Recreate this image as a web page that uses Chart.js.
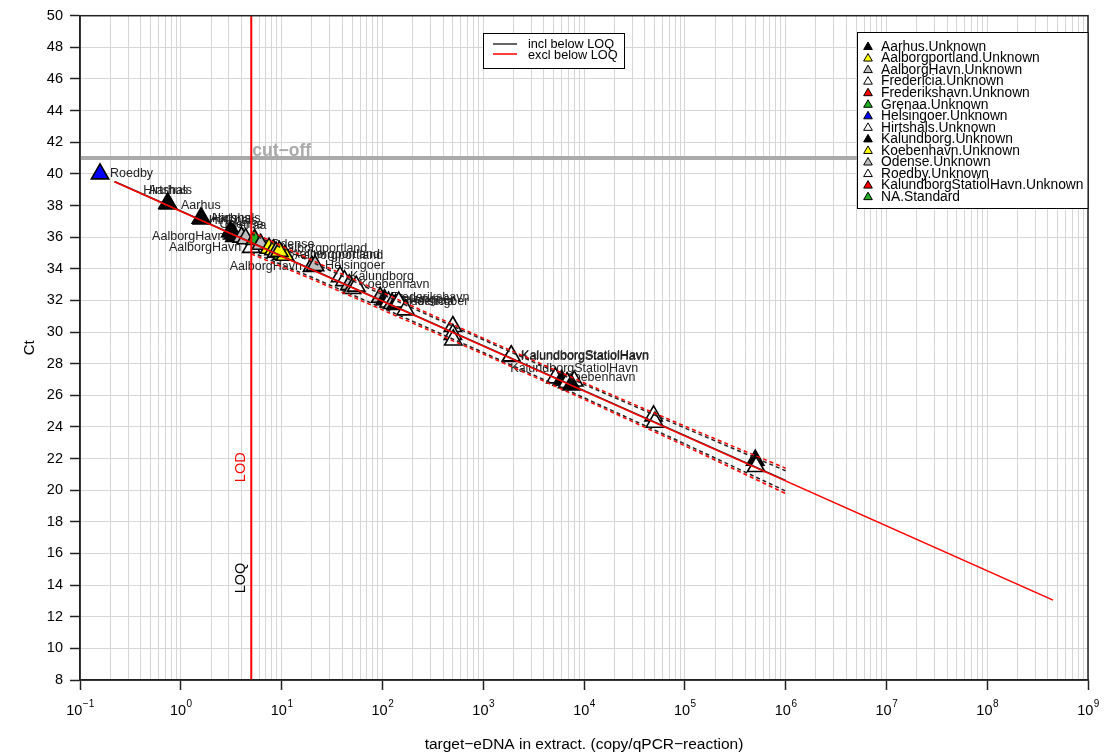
<!DOCTYPE html>
<html>
<head>
<meta charset="utf-8">
<script src="https://cdn.jsdelivr.net/npm/chart.js@4/dist/chart.umd.min.js"></script>
<style>
html, body { margin: 0; padding: 0; background: #fff; }
</style>
</head>
<body>
<canvas id="std" width="1104" height="754"></canvas>
<script>
// legend groups and their fill colours
const siteNames = ['Aarhus.Unknown', 'Aalborgportland.Unknown', 'AalborgHavn.Unknown', 'Fredericia.Unknown',
  'Frederikshavn.Unknown', 'Grenaa.Unknown', 'Helsingoer.Unknown', 'Hirtshals.Unknown', 'Kalundborg.Unknown',
  'Koebenhavn.Unknown', 'Odense.Unknown', 'Roedby.Unknown', 'KalundborgStatiolHavn.Unknown', 'NA.Standard'];
const siteColors = ['#000000', '#ffff00', '#bebebe', '#ffffff', '#ff0000', '#1fb01f', '#0000ff',
  '#ffffff', '#000000', '#ffff00', '#bebebe', '#ffffff', '#ff0000', '#1fb01f'];

// samples: copies per reaction, Ct, group index, text label
const sampleCopies = [0.158, 0.74, 0.75, 1.58, 1.62, 3.1, 3.3, 3.4, 4.0, 4.4, 5.0, 5.4, 6.2, 7.5, 8.3, 8.8,
  10.0, 10.8, 9.5, 20.0, 21.5, 38, 42, 47, 50, 55, 95, 105, 115, 125, 135, 145, 170,
  500, 500, 505, 1880, 1900, 8000, 5200, 6000, 6800, 7500, 49000, 50500, 500000, 510000];
const sampleCt = [40.0, 38.15, 38.1, 37.2, 37.15, 36.35, 36.2, 36.05, 36.0, 35.9, 35.35, 35.85, 35.55, 35.3, 35.2, 35.05,
  34.9, 34.85, 35.1, 34.15, 34.2, 33.5, 33.25, 33.0, 32.75, 32.9, 32.2, 32.05, 31.9, 31.8, 31.75, 31.9, 31.4,
  30.35, 29.85, 29.5, 28.45, 28.5, 26.9, 27.1, 26.95, 26.8, 26.65, 24.7, 24.3, 21.9, 21.5];
const sampleSite = [6, 0, 0, 0, 8, 0, 8, 0, 2, 10, 3, 13, 10, 1, 9, 10,
  13, 1, 1, 2, 10, 7, 3, 10, 2, 11, 10, 0, 3, 2, 8, 11, 7,
  3, 7, 11, 3, 7, 3, 11, 0, 7, 8, 3, 7, 0, 11];
const sampleLabel = ['Roedby', 'Hirtshals', 'Aarhus', 'Aarhus', 'Hirtshals', 'Aarhus', 'Hirtshals', 'AalborgHavn',
  'Odense', 'Grenaa', 'AalborgHavn', '', 'Odense', 'Aalborgportland', '', '',
  'Aalborgportland', 'Aalborgportland', '', 'AalborgHavn', 'Helsingoer', 'Kalundborg', '', 'Koebenhavn', '', '',
  'Frederikshavn', 'Helsingoer', 'Fredericia', '', '', 'Helsingoer', '',
  '', '', '', 'KalundborgStatiolHavn', 'KalundborgStatiolHavn', 'KalundborgStatiolHavn', 'Koebenhavn', '', '', '',
  '', '', '', ''];
// where each label sits: 1 below, 2 left, 3 above, 4 right
const labelSide = [4, 3, 3, 3, 4, 3, 3, 2, 3, 3, 2, 0, 4, 4, 0, 0,
  4, 4, 0, 2, 4, 4, 0, 4, 0, 0, 4, 4, 4, 0, 0, 4, 0,
  0, 0, 0, 4, 4, 3, 4, 0, 0, 0, 0, 0, 0, 0];

// fitted standard curves
const fitExclCopies = [0.22, 4.5e8];
const fitExclCt = [39.5, 13.05];
const fitInclCopies = [0.22, 1e6];
const fitInclCt = [39.52, 20.62];

// prediction bands
const bandCopies = [5, 20, 100, 1000, 1e4, 1e5, 1e6];
const bandExclUpper = [36.34, 34.54, 32.50, 29.61, 26.79, 24.05, 21.39];
const bandExclLower = [34.94, 33.34, 31.40, 28.61, 25.75, 22.81, 19.79];
const bandInclUpper = [36.22, 34.42, 32.37, 29.51, 26.69, 23.93, 21.23];
const bandInclLower = [35.06, 33.46, 31.53, 28.71, 25.85, 22.93, 19.95];

const cutOffCt = 41;
const lodCopies = 5;
const xMin = 0.1, xMax = 1e9;
const yMin = 8, yMax = 50;

const FONT = '"Liberation Sans", Arial, sans-serif';
Chart.defaults.font.family = FONT;
Chart.defaults.color = '#000';

function pts(xs, ys) {
  return xs.map((x, i) => ({ x: x, y: ys[i] }));
}
function isDecade(v) {
  const l = Math.log10(v);
  return Math.abs(l - Math.round(l)) < 1e-9;
}
function lineSet(data, color, width, dash, order) {
  return {
    data: data, showLine: true, borderColor: color, borderWidth: width,
    borderDash: dash, pointRadius: 0, fill: false, order: order
  };
}

function triangle(ctx, x, y, r, fill) {
  ctx.beginPath();
  ctx.moveTo(x, y - r);
  ctx.lineTo(x + r * 0.866, y + r / 2);
  ctx.lineTo(x - r * 0.866, y + r / 2);
  ctx.closePath();
  ctx.fillStyle = fill;
  ctx.fill();
  ctx.stroke();
}

const decorations = {
  id: 'decorations',
  beforeDatasetsDraw(chart) {
    // sample names next to the points
    const { ctx, scales: { x, y } } = chart;
    ctx.save();
    ctx.font = '12.5px ' + FONT;
    ctx.fillStyle = '#222';
    ctx.textBaseline = 'middle';
    sampleLabel.forEach((txt, i) => {
      if (!txt) return;
      const px = x.getPixelForValue(sampleCopies[i]);
      const py = y.getPixelForValue(sampleCt[i]);
      const s = labelSide[i];
      if (s === 4) { ctx.textAlign = 'left'; ctx.fillText(txt, px + 10, py); }
      else if (s === 2) { ctx.textAlign = 'right'; ctx.fillText(txt, px - 10, py); }
      else if (s === 3) { ctx.textAlign = 'center'; ctx.fillText(txt, px, py - 13); }
      else { ctx.textAlign = 'center'; ctx.fillText(txt, px, py + 13); }
    });
    ctx.restore();
  },
  afterDatasetsDraw(chart) {
    const { ctx, chartArea: a, scales: { x, y } } = chart;
    ctx.save();

    // frame
    ctx.strokeStyle = '#222';
    ctx.lineWidth = 1.5;
    ctx.strokeRect(a.left, a.top, a.right - a.left, a.bottom - a.top);

    // x tick labels as 10^n
    for (let e = -1; e <= 9; e++) {
      const px = x.getPixelForValue(Math.pow(10, e));
      const exp = e < 0 ? '\u2212' + Math.abs(e) : String(e);
      ctx.font = '14.5px ' + FONT;
      const wb = ctx.measureText('10').width;
      ctx.font = '10px ' + FONT;
      const we = ctx.measureText(exp).width;
      const left = px - (wb + we) / 2;
      ctx.fillStyle = '#000';
      ctx.textAlign = 'left';
      ctx.textBaseline = 'alphabetic';
      ctx.font = '14.5px ' + FONT;
      ctx.fillText('10', left, a.bottom + 35);
      ctx.font = '10px ' + FONT;
      ctx.fillText(exp, left + wb + 0.5, a.bottom + 27);
    }

    // cut-off text
    const lodX = x.getPixelForValue(lodCopies);
    ctx.font = 'bold 17.5px ' + FONT;
    ctx.fillStyle = '#aaaaaa';
    ctx.textAlign = 'left';
    ctx.textBaseline = 'alphabetic';
    ctx.fillText('cut\u2212off', lodX + 1, y.getPixelForValue(cutOffCt) - 2);

    // LOD / LOQ vertical text
    const vtext = (txt, ct, color) => {
      ctx.save();
      ctx.translate(lodX - 3, y.getPixelForValue(ct));
      ctx.rotate(-Math.PI / 2);
      ctx.font = '14.5px ' + FONT;
      ctx.fillStyle = color;
      ctx.textAlign = 'center';
      ctx.textBaseline = 'bottom';
      ctx.fillText(txt, 0, 0);
      ctx.restore();
    };
    vtext('LOD', 21.45, '#ff0000');
    vtext('LOQ', 14.45, '#000000');

    // fit legend
    ctx.fillStyle = '#fff';
    ctx.fillRect(483, 33, 141, 35);
    ctx.strokeStyle = '#000';
    ctx.lineWidth = 1;
    ctx.strokeRect(483.5, 33.5, 141, 35);
    ctx.lineWidth = 1.5;
    ctx.strokeStyle = '#333';
    ctx.beginPath(); ctx.moveTo(493, 44); ctx.lineTo(517, 44); ctx.stroke();
    ctx.strokeStyle = '#ff0000';
    ctx.beginPath(); ctx.moveTo(493, 54); ctx.lineTo(517, 54); ctx.stroke();
    ctx.font = '12.7px ' + FONT;
    ctx.fillStyle = '#000';
    ctx.textBaseline = 'middle';
    ctx.fillText('incl below LOQ', 528, 44.5);
    ctx.fillText('excl below LOQ', 528, 55);

    // group legend
    ctx.fillStyle = '#fff';
    ctx.fillRect(857, 32, a.right - 857, 177);
    ctx.strokeStyle = '#000';
    ctx.lineWidth = 1;
    ctx.strokeRect(857.5, 32.5, a.right - 857.5, 176);
    ctx.font = '13.8px ' + FONT;
    ctx.textBaseline = 'middle';
    siteNames.forEach((name, i) => {
      const ry = 46 + i * 11.55;
      ctx.strokeStyle = '#000';
      ctx.lineWidth = 1;
      triangle(ctx, 868, ry + 1, 5, siteColors[i]);
      ctx.fillStyle = '#000';
      ctx.fillText(name, 881, ry + 1);
    });

    ctx.restore();
  }
};

const ctxStd = document.getElementById('std').getContext('2d');
new Chart(ctxStd, {
  type: 'scatter',
  data: {
    datasets: [
      lineSet(pts([lodCopies, lodCopies], [yMin, yMax]), '#ff0000', 2, [], 0),
      lineSet(pts(fitExclCopies, fitExclCt), '#ff0000', 1.6, [], 1),
      lineSet(pts(fitInclCopies, fitInclCt), '#222', 1.6, [], 2),
      lineSet(pts(bandCopies, bandExclUpper), '#ff0000', 1.5, [4, 3], 3),
      lineSet(pts(bandCopies, bandExclLower), '#ff0000', 1.5, [4, 3], 3),
      lineSet(pts(bandCopies, bandInclUpper), '#222', 1.5, [4, 3], 3),
      lineSet(pts(bandCopies, bandInclLower), '#222', 1.5, [4, 3], 3),
      {
        data: pts(sampleCopies, sampleCt),
        pointStyle: 'triangle',
        pointRadius: 10,
        backgroundColor: c => siteColors[sampleSite[c.dataIndex]],
        borderColor: '#000',
        borderWidth: 1.6,
        order: 5
      },
      lineSet(pts([xMin, xMax], [cutOffCt, cutOffCt]), '#aaaaaa', 4, [], 10)
    ]
  },
  options: {
    responsive: false,
    animation: false,
    layout: { padding: { left: 0, right: 16, top: 15, bottom: 0 } },
    plugins: { legend: { display: false }, tooltip: { enabled: false } },
    scales: {
      x: {
        type: 'logarithmic',
        min: xMin,
        max: xMax,
        afterBuildTicks: scale => {
          const t = [];
          for (let e = -1; e < 9; e++) {
            for (let m = 1; m <= 9; m++) t.push({ value: m * Math.pow(10, e) });
          }
          t.push({ value: xMax });
          scale.ticks = t;
        },
        afterFit: scale => { scale.height = 74; },
        ticks: { autoSkip: false, maxRotation: 0, callback: () => '' },
        grid: {
          color: '#d6d6d6',
          lineWidth: 1,
          tickLength: 10,
          tickColor: c => (c.tick && isDecade(c.tick.value)) ? '#222' : 'rgba(0,0,0,0)',
          tickWidth: 1.5
        },
        border: { color: '#222', width: 1.5 },
        title: {
          display: true,
          text: 'target\u2212eDNA in extract. (copy/qPCR\u2212reaction)',
          font: { size: 15.5 },
          padding: { top: 0, bottom: 0 }
        }
      },
      y: {
        min: yMin,
        max: yMax,
        afterFit: scale => { scale.width = 80; },
        ticks: { stepSize: 2, font: { size: 14.5 }, padding: 7 },
        grid: { color: '#d6d6d6', lineWidth: 1, tickLength: 10, tickColor: '#222', tickWidth: 1.5 },
        border: { color: '#222', width: 1.5 },
        title: { display: true, text: 'Ct', font: { size: 15 }, padding: { top: 21, bottom: 0 } }
      }
    }
  },
  plugins: [decorations]
});
</script>
</body>
</html>
